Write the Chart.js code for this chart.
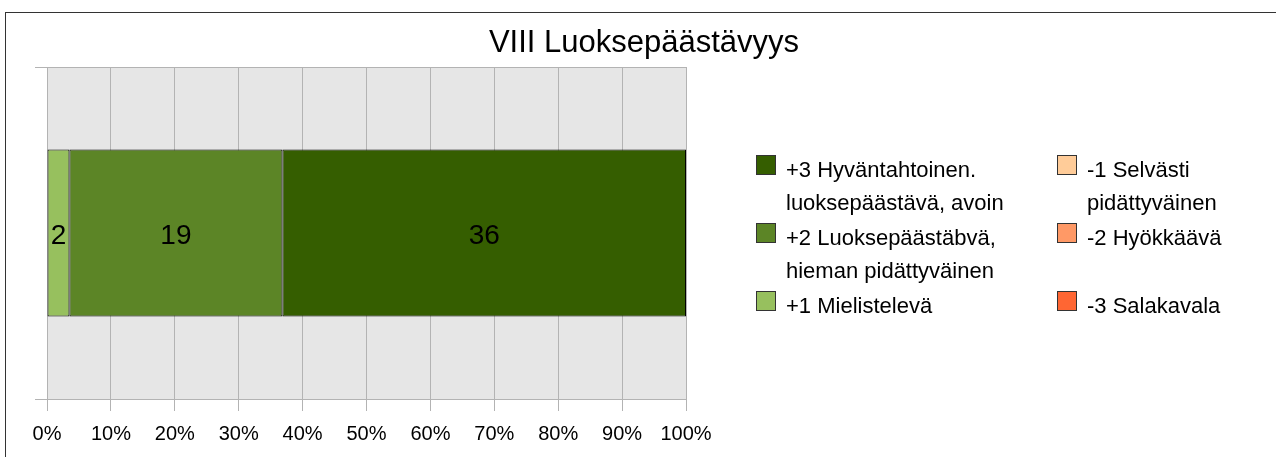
<!DOCTYPE html>
<html>
<head>
<meta charset="utf-8">
<script src="https://cdn.jsdelivr.net/npm/chart.js@4/dist/chart.umd.min.js"></script>
<style>
    html, body { margin: 0; padding: 0; background: #fff; }
    body { width: 1276px; height: 457px; position: relative; overflow: hidden; font-family: "Liberation Sans", Arial, sans-serif; }
    #frame { position: absolute; left: 5px; top: 12px; width: 1400px; height: 600px; border-left: 1px solid #333; border-top: 1px solid #333; }
    #chartBox { position: absolute; left: 0; top: 0; width: 1276px; height: 457px; }
    #title { position: absolute; left: 0; top: 24px; width: 1288px; text-align: center; font-size: 31px; line-height: 36px; color: #000; }
    #legend { position: absolute; left: 756px; top: 153px; display: grid; grid-template-columns: 301px 200px; row-gap: 2px; }
    .item { display: flex; align-items: flex-start; font-size: 22px; line-height: 33px; color: #000; white-space: pre-line; }
    .swatch { width: 18px; height: 18px; border: 1px solid #333; margin-top: 2px; margin-right: 10px; flex: none; }
</style>
</head>
<body>
<div id="frame"></div>
<div id="chartBox"><canvas id="myChart" width="1276" height="457"></canvas></div>
<div id="title">VIII Luoksepäästävyys</div>
<div id="legend"></div>
<script>
// chart data
const categories = [''];
const seriesNames = ['+1 Mielistelevä', '+2 Luoksepäästäbvä,\nhieman pidättyväinen', '+3 Hyväntahtoinen.\nluoksepäästävä, avoin',
    '-1 Selvästi\npidättyväinen', '-2 Hyökkäävä', '-3 Salakavala'];
const seriesCounts = [2, 19, 36, 0, 0, 0];
const seriesColors = ['#97c05e', '#5c8526', '#355e00', '#ffcc99', '#ff9966', '#ff6633'];
const legendOrder = [2, 3, 1, 4, 0, 5]; // two columns: +3,+2,+1 | -1,-2,-3
const xTicks = [0, 10, 20, 30, 40, 50, 60, 70, 80, 90, 100];

const total = seriesCounts.reduce((a, b) => a + b, 0);

const plotBackground = {
    id: 'plotBackground',
    beforeDraw(chart) {
        const { ctx, chartArea } = chart;
        ctx.save();
        ctx.fillStyle = '#e6e6e6';
        ctx.fillRect(chartArea.left, chartArea.top, chartArea.right - chartArea.left, chartArea.bottom - chartArea.top);
        ctx.restore();
    }
};

// raw counts written in the middle of each segment
const countLabels = {
    id: 'countLabels',
    afterDatasetsDraw(chart) {
        const ctx = chart.ctx;
        ctx.save();
        ctx.font = '28px "Liberation Sans", Arial, sans-serif';
        ctx.fillStyle = '#000';
        ctx.textAlign = 'center';
        ctx.textBaseline = 'middle';
        chart.data.datasets.forEach((ds, i) => {
            const meta = chart.getDatasetMeta(i);
            meta.data.forEach((bar, j) => {
                const count = ds.counts[j];
                if (!count) return;
                ctx.fillText(String(count), (bar.x + bar.base) / 2, bar.y + 3);
            });
        });
        ctx.restore();
    }
};

const ctx = document.getElementById('myChart').getContext('2d');
const myChart = new Chart(ctx, {
    type: 'bar',
    data: {
        labels: categories,
        datasets: seriesNames.map((name, i) => ({
            label: name,
            counts: [seriesCounts[i]],
            data: [seriesCounts[i] / total * 100],
            backgroundColor: seriesColors[i],
            borderColor: '#000',
            borderWidth: 1,
            borderSkipped: false,
            categoryPercentage: 1,
            barPercentage: 0.503
        }))
    },
    options: {
        indexAxis: 'y',
        responsive: false,
        animation: false,
        events: [],
        layout: { padding: { left: 35, right: 590, top: 67, bottom: 0 } },
        plugins: {
            legend: { display: false },
            title: { display: false },
            tooltip: { enabled: false }
        },
        scales: {
            x: {
                stacked: true,
                min: 0,
                max: 100,
                afterBuildTicks: axis => { axis.ticks = xTicks.map(v => ({ value: v })); },
                ticks: {
                    callback: v => v + '%',
                    color: '#000',
                    padding: 12,
                    maxRotation: 0,
                    autoSkip: false,
                    font: { family: '"Liberation Sans", Arial, sans-serif', size: 20, lineHeight: 1.1 }
                },
                grid: { color: '#b3b3b3', tickLength: 12, tickColor: '#b3b3b3' },
                border: { color: '#b3b3b3' }
            },
            y: {
                stacked: true,
                ticks: { display: false },
                grid: { color: '#b3b3b3', tickLength: 12, offset: true },
                border: { color: '#b3b3b3' }
            }
        }
    },
    plugins: [plotBackground, countLabels]
});

// legend built from the same series
const legendEl = document.getElementById('legend');
legendOrder.forEach(i => {
    const item = document.createElement('div');
    item.className = 'item';
    const sw = document.createElement('span');
    sw.className = 'swatch';
    sw.style.background = seriesColors[i];
    const txt = document.createElement('span');
    txt.textContent = seriesNames[i];
    item.appendChild(sw);
    item.appendChild(txt);
    legendEl.appendChild(item);
});
</script>
</body>
</html>
